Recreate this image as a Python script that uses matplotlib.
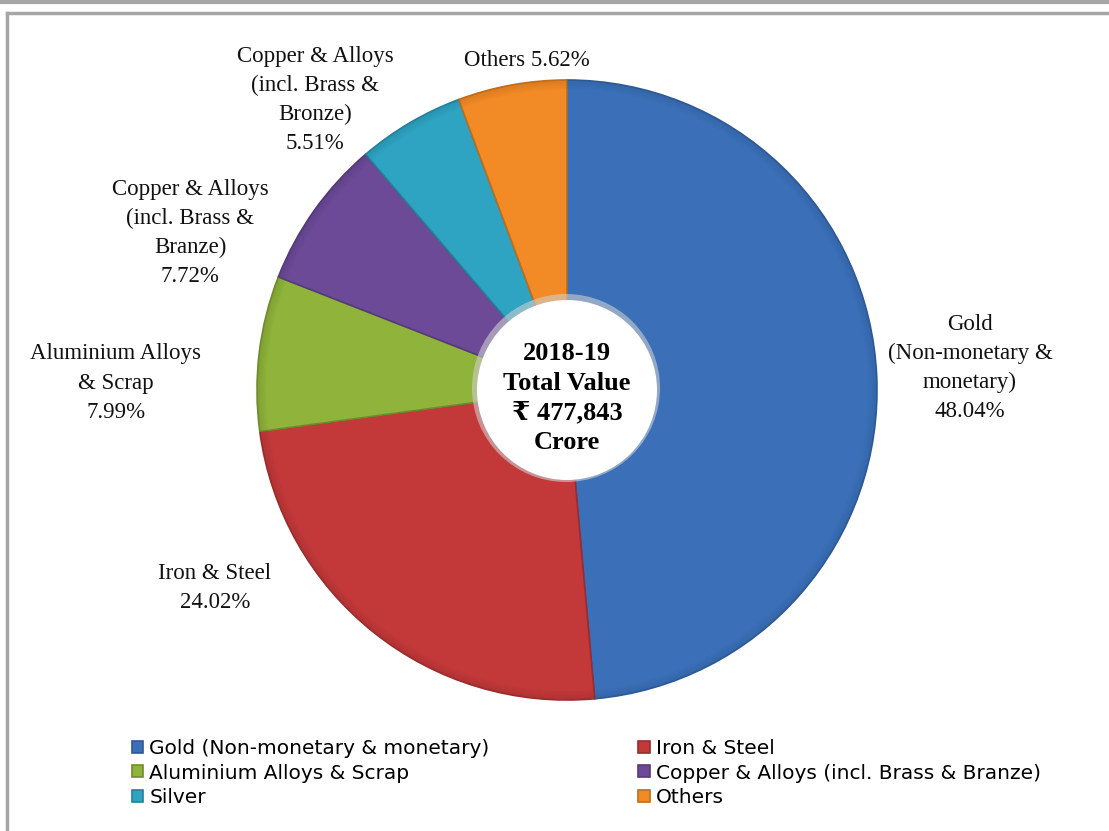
import numpy as np
import matplotlib
matplotlib.use('Agg')
import matplotlib.pyplot as plt
from matplotlib.lines import Line2D
from matplotlib.patches import Circle

# data
categories = ['Gold (Non-monetary & monetary)', 'Iron & Steel',
              'Aluminium Alloys & Scrap', 'Copper & Alloys (incl. Brass & Branze)',
              'Silver', 'Others']
shares = [48.04, 24.02, 7.99, 7.72, 5.51, 5.62]
slice_labels = ['Gold\n(Non-monetary &\nmonetary)\n48.04%',
                'Iron & Steel\n24.02%',
                'Aluminium Alloys\n& Scrap\n7.99%',
                'Copper & Alloys\n(incl. Brass &\nBranze)\n7.72%',
                'Copper & Alloys\n(incl. Brass &\nBronze)\n5.51%',
                'Others 5.62%']
center_text = '2018-19\nTotal Value\n\u20b9 477,843\nCrore'
colors = ['#3b70b9', '#c3393a', '#8fb33b', '#6c4a98', '#2ea4c2', '#f28a25']
edge_colors = ['#2d5a96', '#9a2c2d', '#6f8c2c', '#543a78', '#23819a', '#c06c1a']

W, H = 1109, 831
fig = plt.figure(figsize=(W / 100, H / 100), dpi=100)
ax = fig.add_axes([0, 0, 1, 1])

cx, cy, R = 567, H - 390, 310
wedges, _ = ax.pie(shares, colors=colors, startangle=90, counterclock=False,
                   center=(cx, cy), radius=R, frame=True,
                   wedgeprops=dict(linewidth=1.2))
for w, ec in zip(wedges, edge_colors):
    w.set_edgecolor(ec)

# darker rim for a bit of bevel
for k in range(6):
    ax.pie(shares, colors=edge_colors, startangle=90, counterclock=False,
           center=(cx, cy), radius=R - k * 1.5, frame=True,
           wedgeprops=dict(width=1.5, linewidth=0, alpha=0.45 * (1 - k / 6)))

# hole
ax.add_patch(Circle((cx - 1, cy + 2), 94, facecolor='#cfcfcf', edgecolor='none', alpha=0.6))
ax.add_patch(Circle((cx, cy), 90, facecolor='white', edgecolor='none'))

serif = ['Liberation Serif', 'DejaVu Serif', 'DejaVu Sans']
ax.text(cx, H - 398, center_text, ha='center', va='center', fontsize=19,
        fontweight='bold', family=serif, linespacing=1.38)

label_pos = [(970, 368), (215, 588), (116, 383), (190, 233), (315, 100), (527, 60)]
for txt, (x, y) in zip(slice_labels, label_pos):
    ax.text(x, H - y, txt, ha='center', va='center', fontsize=16.5,
            family=serif, linespacing=1.5, color='#111111')

ax.set_xlim(0, W)
ax.set_ylim(0, H)
ax.set_aspect('equal')
ax.axis('off')

# legend, row-major order like the reference
order = [0, 2, 4, 1, 3, 5]
leg = fig.legend([wedges[i] for i in order], [categories[i] for i in order],
                 ncol=2, loc='upper left',
                 bbox_to_anchor=(122 / W, 1 - 729 / H), frameon=False,
                 prop={'family': ['DejaVu Sans'], 'size': 14.5},
                 handlelength=0.55, handleheight=0.55, handletextpad=0.3,
                 columnspacing=7.4, labelspacing=0.27, borderpad=0)

# frame lines
gray = '#a6a6a6'
fig.add_artist(Line2D([0, 1], [1 - 1.5 / H, 1 - 1.5 / H], color=gray, lw=3))
fig.add_artist(Line2D([7 / W, 1], [1 - 13 / H, 1 - 13 / H], color=gray, lw=2.5))
fig.add_artist(Line2D([7 / W, 7 / W], [0, 1 - 13 / H], color=gray, lw=2.5))

fig.savefig('out.png', dpi=100)
